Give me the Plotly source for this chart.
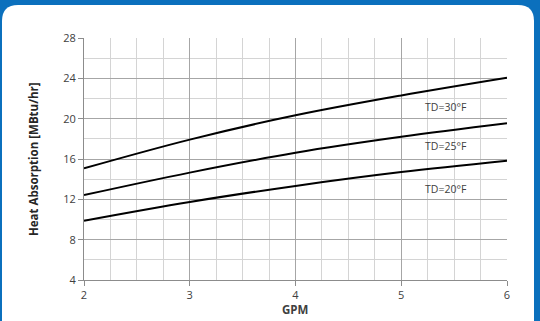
import plotly.graph_objects as go

gpm = [2, 3, 4, 5, 6]
td30 = [15.07, 17.92, 20.33, 22.3, 24.06]
td25 = [12.42, 14.65, 16.62, 18.2, 19.54]
td20 = [9.88, 11.74, 13.33, 14.7, 15.83]
labels = ["TD=30°F", "TD=25°F", "TD=20°F"]
label_x = [5.42, 5.42, 5.42]
label_y = [21.18, 17.29, 12.99]

W, H = 540, 321
L, R, T, B = 84, 33, 38, 41
PW, PH = W - L - R, H - T - B

def px(x):
    return (x - L) / PW

def py(y):
    return (H - B - y) / PH

# rounded white panel
x0, x1, y0, y1, r = 2, 534, 5, 330, 16
path = (f"M {px(x0)},{py(y1)} L {px(x0)},{py(y0 + r)} "
        f"Q {px(x0)},{py(y0)} {px(x0 + r)},{py(y0)} "
        f"L {px(x1 - r)},{py(y0)} "
        f"Q {px(x1)},{py(y0)} {px(x1)},{py(y0 + r)} "
        f"L {px(x1)},{py(y1)} Z")

fig = go.Figure()
for ys in (td30, td25, td20):
    fig.add_trace(go.Scatter(x=gpm, y=ys, mode="lines", line=dict(color="black", width=2, shape="spline"),
                             showlegend=False, hoverinfo="skip"))

for t, x, y in zip(labels, label_x, label_y):
    fig.add_annotation(x=x, y=y, text=t, showarrow=False, xref="x", yref="y",
                       font=dict(size=10.5, color="#404040", family="Open Sans"))

# axis titles
fig.add_annotation(x=px(295), y=py(309), xref="paper", yref="paper", text="<b>GPM</b>", showarrow=False,
                   font=dict(size=11.5, color="#404040"), xanchor="center", yanchor="middle")
fig.add_annotation(x=px(33), y=py(159), xref="paper", yref="paper", text="<b>Heat Absorption [MBtu/hr]</b>",
                   showarrow=False, textangle=-90, font=dict(size=11.5, color="#262626"),
                   xanchor="center", yanchor="middle")

fig.add_shape(type="path", path=path, xref="paper", yref="paper", fillcolor="white",
              line=dict(width=0), layer="below")

fig.update_layout(
    width=W, height=H,
    margin=dict(l=L, r=R, t=T, b=B),
    paper_bgcolor="#0B70BD",
    plot_bgcolor="white",
    font=dict(family="Open Sans", size=11, color="#404040"),
)
fig.update_xaxes(
    range=[2, 6], tickvals=[2, 3, 4, 5, 6], showgrid=True, gridcolor="#A6A6A6", gridwidth=1,
    minor=dict(dtick=0.25, tick0=2, showgrid=True, gridcolor="#D4D4D4", gridwidth=1),
    showline=True, linecolor="#8C8C8C", linewidth=1, ticks="outside", ticklen=5, tickcolor="#8C8C8C",
    zeroline=False, automargin=False,
)
fig.update_yaxes(
    range=[4, 28], tickvals=[4, 8, 12, 16, 20, 24, 28], showgrid=True, gridcolor="#A6A6A6", gridwidth=1,
    minor=dict(dtick=2, tick0=4, showgrid=True, gridcolor="#D4D4D4", gridwidth=1),
    showline=True, linecolor="#8C8C8C", linewidth=1, ticks="outside", ticklen=5, tickcolor="#8C8C8C",
    zeroline=False, automargin=False,
)
fig.write_html("out.html", config={"displayModeBar": False},
               post_script="document.body.style.margin='0px';document.body.style.overflow='hidden';")
